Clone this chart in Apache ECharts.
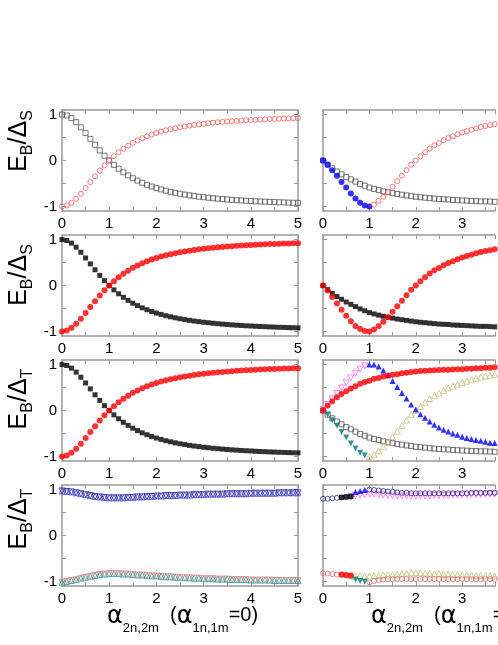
<!DOCTYPE html>
<html><head><meta charset="utf-8">
<script src="https://cdn.jsdelivr.net/npm/echarts@6/dist/echarts.min.js"></script>
<style>html,body{margin:0;padding:0;background:#fff}#c{width:498px;height:645px}</style>
</head><body><div id="c"></div><script>
// ---- data ----
const X = [0,0.1,0.2,0.3,0.4,0.5,0.6,0.7,0.8,0.9,1.0,1.1,1.2,1.3,1.4,1.5,1.6,1.7,1.8,1.9,2.0,2.1,2.2,2.3,2.4,2.5,2.6,2.7,2.8,2.9,3.0,3.1,3.2,3.3,3.4,3.5,3.6,3.7,3.8,3.9,4.0,4.1,4.2,4.3,4.4,4.5,4.6,4.7,4.8,4.9,5.0];
const xTickLabels = [0,1,2,3,4,5];
const yTickLabels = [-1,0,1];

// left column, rows 1-3
const leftFalling = [1,0.98,0.923,0.835,0.724,0.6,0.471,0.342,0.22,0.105,0,-0.095,-0.18,-0.257,-0.324,-0.385,-0.438,-0.486,-0.528,-0.566,-0.6,-0.63,-0.658,-0.682,-0.704,-0.724,-0.742,-0.759,-0.774,-0.787,-0.8,-0.811,-0.822,-0.832,-0.841,-0.849,-0.857,-0.864,-0.87,-0.877,-0.882,-0.888,-0.893,-0.897,-0.902,-0.906,-0.91,-0.913,-0.917,-0.92,-0.923];
const leftRising = [-1,-0.98,-0.923,-0.835,-0.724,-0.6,-0.471,-0.342,-0.22,-0.105,0,0.095,0.18,0.257,0.324,0.385,0.438,0.486,0.528,0.566,0.6,0.63,0.658,0.682,0.704,0.724,0.742,0.759,0.774,0.787,0.8,0.811,0.822,0.832,0.841,0.849,0.857,0.864,0.87,0.877,0.882,0.888,0.893,0.897,0.902,0.906,0.91,0.913,0.917,0.92,0.923];
// left column, row 4
const leftUpper = [0.97,0.96,0.95,0.93,0.91,0.89,0.87,0.85,0.84,0.83,0.82, 0.82,0.82,0.82,0.83,0.83,0.84,0.84,0.85,0.85,0.86, 0.86,0.87,0.87,0.87,0.88,0.88,0.88,0.89,0.89,0.89, 0.9,0.9,0.9,0.9,0.91,0.91,0.91,0.91,0.91,0.92, 0.92,0.92,0.92,0.92,0.92,0.93,0.93,0.93,0.93,0.93];
const leftLower = [-1.02,-1.0,-0.98,-0.96,-0.93,-0.91,-0.89,-0.87,-0.85,-0.84,-0.83, -0.83,-0.83,-0.84,-0.84,-0.85,-0.86,-0.86,-0.87,-0.88,-0.88, -0.89,-0.9,-0.9,-0.91,-0.91,-0.92,-0.92,-0.93,-0.93,-0.94, -0.94,-0.94,-0.95,-0.95,-0.95,-0.96,-0.96,-0.96,-0.96,-0.97, -0.97,-0.97,-0.97,-0.97,-0.98,-0.98,-0.98,-0.98,-0.98,-0.98];

// right column (x from 0 to 3.7 visible)
const rightGray = [0,-0.09,-0.17,-0.24,-0.3,-0.36,-0.41,-0.46,-0.51,-0.55,-0.59, -0.62,-0.645,-0.67,-0.69,-0.71,-0.73,-0.745,-0.76,-0.775,-0.79, -0.8,-0.81,-0.82,-0.83,-0.84,-0.845,-0.85,-0.86,-0.865,-0.87, -0.875,-0.88,-0.885,-0.89,-0.89,-0.895,-0.9];
const rightDip = [0,-0.09,-0.21,-0.33,-0.47,-0.59,-0.72,-0.83,-0.92,-0.98,-1.0];          // row 1, x 0..1.0
const r2Dip = [0,-0.11,-0.25,-0.39,-0.53,-0.66,-0.78,-0.88,-0.95,-0.99,-1.0];             // row 2, x 0..1.0
const rightClimb = [-0.96,-0.88,-0.79,-0.69,-0.57,-0.45,-0.33,-0.21,-0.09,0, 0.09,0.18,0.26,0.33,0.38,0.44,0.49,0.53,0.57,0.61, 0.64,0.67,0.7,0.73,0.75,0.77,0.79]; // x 1.1..3.7
// right row 3
const r3Magenta = [0.02,0.13,0.25,0.37,0.49,0.6,0.71,0.81,0.9,0.97];                          // x 0..0.9
const r3BlueTri = [1.0,1.0,0.96,0.87,0.77,0.64,0.51,0.38,0.26,0.13,0.02, -0.08,-0.16,-0.24,-0.31,-0.37,-0.42,-0.46,-0.5,-0.53,-0.57, -0.6,-0.62,-0.64,-0.66,-0.68,-0.7,-0.71]; // x 1.0..3.7
const r3Red = [0,0.11,0.2,0.29,0.36,0.42,0.48,0.53,0.58,0.62,0.65, 0.69,0.71,0.74,0.76,0.78,0.79,0.81,0.82,0.84,0.85, 0.86,0.865,0.87,0.875,0.88,0.885,0.89,0.895,0.9,0.9, 0.91,0.91,0.92,0.92,0.93,0.93,0.94];
const r3Teal = [0,-0.09,-0.21,-0.33,-0.47,-0.59,-0.72,-0.83,-0.92,-0.98];                     // x 0..0.9
const r3Olive = [-1.0,-0.96,-0.88,-0.79,-0.69,-0.57,-0.45,-0.33,-0.21,-0.09,0, 0.09,0.18,0.26,0.33,0.38,0.44,0.49,0.53,0.57,0.61, 0.64,0.67,0.7,0.73,0.75,0.77,0.79]; // x 1.0..3.7
// right row 4
const r4NavyA = [0.8,0.8,0.81,0.82,0.83,0.84,0.85];           // x 0..0.6
const r4Black = [0.83,0.84,0.85];                             // x 0.4..0.6
const r4BlueTri = [0.95,0.97,0.99];                           // x 0.7..0.9
const r4NavyB = [1.0,0.99,0.98,0.97,0.96,0.95,0.94,0.93,0.93,0.92,0.92, 0.92,0.92,0.92,0.92,0.92,0.92,0.92,0.92,0.92,0.92, 0.92,0.93,0.93,0.93,0.93,0.93,0.93]; // x 1.0..3.7
const r4Magenta = [0.85,0.87,0.88,0.89,0.9, 0.9,0.89,0.88,0.87,0.86, 0.86,0.86,0.86,0.86,0.86, 0.86,0.86,0.86,0.87,0.87, 0.87,0.87,0.88,0.88,0.88, 0.88,0.89,0.89,0.89,0.89, 0.9,0.9]; // x 0.6..3.7
const r4PinkA = [-0.82,-0.83,-0.84,-0.85,-0.86,-0.87,-0.88];  // x 0..0.6
const r4Red = [-0.85,-0.86,-0.87];                            // x 0.4..0.6
const r4TealTri = [-0.96,-0.99,-1.01];                        // x 0.7..0.9
const r4Olive = [-0.88,-0.88,-0.88,-0.88,-0.88, -0.87,-0.87,-0.86,-0.86,-0.85, -0.84,-0.83,-0.82,-0.81,-0.81, -0.81,-0.82,-0.82,-0.83,-0.83, -0.84,-0.84,-0.85,-0.85,-0.86, -0.86,-0.86,-0.87,-0.87,-0.87, -0.87,-0.88]; // x 0.6..3.7
const r4PinkB = [-1.02,-0.99,-0.97,-0.96,-0.95,-0.95,-0.95,-0.95,-0.95,-0.95,-0.95, -0.95,-0.95,-0.95,-0.95,-0.95,-0.95,-0.95,-0.95,-0.95,-0.95, -0.95,-0.95,-0.95,-0.95,-0.95,-0.95,-0.95]; // x 1.0..3.7

// ---- build ----
function pts(x0, ys) { const i0 = Math.round(x0 * 10); return ys.map((y, k) => [X[i0 + k], y]); }

const FONT = 'Liberation Sans, Arial, sans-serif';
const AX = '#999';
const rowTops = [110, 235, 360, 485];
const grids = [];
rowTops.forEach(t => {
  grids.push({left: 62, top: t, width: 236, height: 101});
  grids.push({left: 323, top: t, width: 175, height: 101}); // right panel is cut by the page edge
});

const xAxes = [], yAxes = [];
grids.forEach((g, i) => {
  const isLeft = i % 2 === 0;
  const base = {gridIndex: i, type: 'value', min: 0, max: isLeft ? 5 : 175 / 47.2, interval: 0.5, splitLine: {show: false},
    axisLine: {onZero: false, lineStyle: {color: AX, width: 1.5}}, axisTick: {inside: true, length: 4, lineStyle: {color: AX, width: 1}}};
  xAxes.push(Object.assign({}, base, {position: 'bottom',
    axisLabel: {margin: 5, color: '#000', fontSize: 15, fontFamily: FONT, showMaxLabel: true,
      formatter: v => { const r = Math.round(v); return (Math.abs(v - r) < 1e-6 && xTickLabels.includes(r)) ? String(r) : ''; }}}));
  xAxes.push(Object.assign({}, base, {position: 'top', axisLabel: {show: false}}));
  const ybase = {gridIndex: i, type: 'value', min: -1.1, max: 1.1, splitLine: {show: false},
    axisLine: {show: true, onZero: false, lineStyle: {color: AX, width: 1.5}},
    axisTick: {show: true, inside: true, length: 4, customValues: [-1, -0.5, 0, 0.5, 1], lineStyle: {color: AX, width: 1}}};
  yAxes.push(Object.assign({}, ybase, {position: 'left',
    axisLabel: {show: isLeft, customValues: yTickLabels, margin: 5, color: '#000', fontSize: 15, fontFamily: FONT}}));
  yAxes.push(Object.assign({}, ybase, {position: 'right', show: isLeft, axisLabel: {show: false}}));
});

function sc(grid, data, symbol, color, open, size, rot) {
  return {type: 'scatter', xAxisIndex: grid * 2, yAxisIndex: grid * 2, data: data, symbol: symbol,
    symbolSize: size, symbolRotate: rot || 0, silent: true,
    itemStyle: open ? {color: 'rgba(0,0,0,0)', borderColor: color, borderWidth: 1} : {color: color}};
}
const GRAY = '#555', PINK = '#ff5a5a', RED = '#ff0000', BLK = '#000', BLUE = '#0000ff', MAG = '#ff66ff', TEAL = '#007878', OLV = '#c4c07a';
const series = [
  // row 1
  sc(0, pts(0, leftFalling), 'rect', GRAY, true, 5),
  sc(0, pts(0, leftRising), 'circle', PINK, true, 5),
  sc(1, pts(0, rightGray), 'rect', GRAY, true, 5),
  sc(1, pts(0, rightDip), 'circle', BLUE, false, 6),
  sc(1, pts(1.1, rightClimb), 'circle', PINK, true, 5),
  // row 2
  sc(2, pts(0, leftFalling), 'rect', BLK, false, 5),
  sc(2, pts(0, leftRising), 'circle', RED, false, 6),
  sc(3, pts(0, rightGray), 'rect', BLK, false, 5),
  sc(3, pts(0, r2Dip), 'circle', RED, false, 6),
  sc(3, pts(1.1, rightClimb), 'circle', RED, false, 6),
  // row 3
  sc(4, pts(0, leftFalling), 'rect', BLK, false, 5),
  sc(4, pts(0, leftRising), 'circle', RED, false, 6),
  sc(5, pts(0, rightGray), 'rect', GRAY, true, 5),
  sc(5, pts(0, r3Teal), 'triangle', TEAL, false, 6, 180),
  sc(5, pts(1.0, r3Olive), 'triangle', OLV, true, 6),
  sc(5, pts(0, r3Magenta), 'triangle', MAG, true, 6, 180),
  sc(5, pts(1.0, r3BlueTri), 'triangle', BLUE, false, 6),
  sc(5, pts(0, r3Red), 'circle', RED, false, 6),
  // row 4
  sc(6, pts(0, leftUpper), 'triangle', '#4a4ad8', true, 6),
  sc(6, pts(0, leftUpper), 'triangle', '#2a2a9a', true, 6, 180),
  sc(6, pts(0, leftLower), 'triangle', '#ff8080', true, 6, 180),
  sc(6, pts(0, leftLower), 'triangle', '#2aa0a0', true, 6),
  sc(7, pts(0.6, r4Magenta), 'triangle', MAG, true, 6, 180),
  sc(7, pts(0, r4NavyA), 'circle', '#2a2a8a', true, 5),
  sc(7, pts(1.0, r4NavyB), 'circle', '#2a2a8a', true, 5),
  sc(7, pts(0.4, r4Black), 'rect', BLK, false, 5),
  sc(7, pts(0.7, r4BlueTri), 'triangle', BLUE, false, 6),
  sc(7, pts(0.6, r4Olive), 'triangle', OLV, true, 6),
  sc(7, pts(0, r4PinkA), 'circle', '#d86a6a', true, 5),
  sc(7, pts(1.0, r4PinkB), 'circle', '#d86a6a', true, 5),
  sc(7, pts(0.4, r4Red), 'circle', RED, false, 6),
  sc(7, pts(0.7, r4TealTri), 'triangle', TEAL, false, 6, 180)
];

// titles
const richY = {
  m: {fontSize: 25, fontFamily: FONT, color: '#000', verticalAlign: 'top', lineHeight: 26},
  s: {fontSize: 16, fontFamily: FONT, color: '#000', verticalAlign: 'top', lineHeight: 17, padding: [13, 0, 0, 0]}
};
const yTitles = ['{m|E}{s|B}{m|/Δ}{s|S}', '{m|E}{s|B}{m|/Δ}{s|S}', '{m|E}{s|B}{m|/Δ}{s|T}', '{m|E}{s|B}{m|/Δ}{s|T}'];
const yTitleCenters = [141, 275, 399, 519];
const graphics = [];
yTitleCenters.forEach((c, r) => {
  graphics.push({type: 'text', x: 20, y: c, rotation: Math.PI / 2,
    style: {text: yTitles[r], rich: richY, align: 'center', verticalAlign: 'middle', font: '25px ' + FONT}});
});
const richX = {
  a: {fontSize: 24, fontFamily: 'DejaVu Sans', color: '#000', verticalAlign: 'top', lineHeight: 24},
  m: {fontSize: 20, fontFamily: FONT, color: '#000', verticalAlign: 'top', lineHeight: 20},
  s: {fontSize: 13, fontFamily: FONT, color: '#000', verticalAlign: 'top', lineHeight: 13, padding: [17, 0, 0, 0]}
};
graphics.push({type: 'text', x: 107, y: 605, style: {text: '{a|α}{s|2n,2m}{m|  (}{a|α}{s|1n,1m}{m|=0)}', rich: richX, align: 'left', verticalAlign: 'top'}});
graphics.push({type: 'text', x: 371, y: 605, style: {text: '{a|α}{s|2n,2m}{m|  (}{a|α}{s|1n,1m}{m|=}', rich: richX, align: 'left', verticalAlign: 'top'}});

const chart = echarts.init(document.getElementById('c'), null, {renderer: 'canvas'});
chart.setOption({animation: false, grid: grids, xAxis: xAxes, yAxis: yAxes, series: series, graphic: graphics});
</script></body></html>
